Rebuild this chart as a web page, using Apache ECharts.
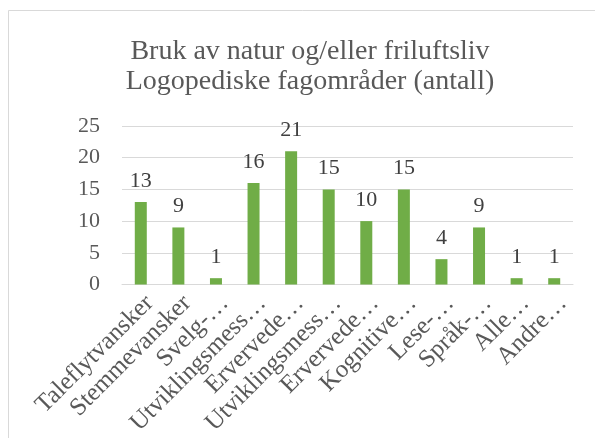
<!DOCTYPE html>
<html>
<head>
<meta charset="utf-8">
<script src="https://cdn.jsdelivr.net/npm/echarts@6/dist/echarts.min.js"></script>
<style>
  html, body { margin: 0; padding: 0; background: #ffffff; }
  #chart { width: 595px; height: 438px; }
</style>
</head>
<body>
<div id="chart"></div>
<script>
// Logopedic subject areas (labels as they appear, shortened with an ellipsis)
const categories = [
  'Taleflytvansker', 'Stemmevansker', 'Svelg-…', 'Utviklingsmess…',
  'Ervervede…', 'Utviklingsmess…', 'Ervervede…', 'Kognitive…',
  'Lese-…', 'Språk-…', 'Alle…', 'Andre…'
];
// Count of respondents per subject area
const counts = [13, 9, 1, 16, 21, 15, 10, 15, 4, 9, 1, 1];
const titleLines = ['Bruk av natur og/eller friluftsliv', 'Logopediske fagområder (antall)'];
const yTicks = { min: 0, max: 25, interval: 5 };

const serif = '"Liberation Serif", "Times New Roman", serif';
const textColor = '#595959';

const chart = echarts.init(document.getElementById('chart'), null, { renderer: 'canvas' });
chart.setOption({
  animation: false,
  backgroundColor: '#ffffff',
  graphic: [{
    type: 'rect',
    shape: { x: 8.5, y: 10.5, width: 600, height: 440 },
    style: { fill: 'none', stroke: '#d9d9d9', lineWidth: 1 },
    silent: true
  }],
  title: {
    text: titleLines.join('\n'),
    left: 305,
    textAlign: 'center',
    top: 32,
    textStyle: {
      fontFamily: serif,
      fontSize: 28,
      fontWeight: 'normal',
      color: textColor,
      lineHeight: 30
    }
  },
  grid: { left: 122, right: 22, top: 126, bottom: 153, containLabel: false },
  xAxis: {
    type: 'category',
    data: categories,
    axisLine: { show: true, lineStyle: { color: '#d9d9d9', width: 1 } },
    axisTick: { show: false },
    axisLabel: {
      interval: 0,
      rotate: 45,
      margin: 6,
      verticalAlign: 'top',
      fontFamily: serif,
      fontSize: 25,
      color: textColor
    }
  },
  yAxis: {
    type: 'value',
    min: yTicks.min,
    max: yTicks.max,
    interval: yTicks.interval,
    axisLine: { show: false },
    axisTick: { show: false },
    splitLine: { lineStyle: { color: '#d9d9d9', width: 1 } },
    axisLabel: {
      margin: 22,
      fontFamily: serif,
      fontSize: 22,
      color: textColor
    }
  },
  series: [{
    type: 'bar',
    data: counts,
    barWidth: 12,
    itemStyle: { color: '#70ad47' },
    label: {
      show: true,
      position: 'top',
      distance: 10,
      fontFamily: serif,
      fontSize: 22,
      color: '#404040'
    }
  }]
});
</script>
</body>
</html>
